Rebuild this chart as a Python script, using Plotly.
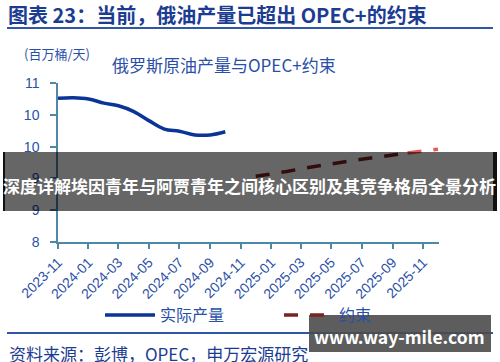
import plotly.graph_objects as go

# ---- data ----
actual_months = ["2023-11", "2023-12", "2024-01", "2024-02", "2024-03", "2024-04",
                 "2024-05", "2024-06", "2024-07", "2024-08", "2024-09", "2024-10"]
actual_values = [10.71, 10.72, 10.70, 10.62, 10.57, 10.46,
                 10.29, 10.13, 10.09, 10.02, 10.02, 10.08]

limit_months = ["2024-12", "2025-01", "2025-02", "2025-03", "2025-04", "2025-05", "2025-06",
                "2025-07", "2025-08", "2025-09", "2025-10", "2025-11", "2025-12"]
limit_values = [9.24, 9.28, 9.33, 9.38, 9.43, 9.48, 9.52,
                9.56, 9.60, 9.64, 9.68, 9.72, 9.75]

y_tickvals = [8, 8.6, 9.2, 9.8, 10.4, 11]
y_ticktext = ["8", "9", "9", "10", "10", "11"]

series_names = ["实际产量", "约束"]

W, H = 500, 362
L, R, T, B = 58, 61, 83, 120
PW, PH = W - L - R, H - T - B


def px(xp):
    return (xp - L) / PW


def py(yp):
    return (H - B - yp) / PH


FONT = "Noto Sans CJK SC, Noto Sans, sans-serif"
NUMFONT = "Liberation Sans, Arial, sans-serif"
BLUE_TXT = "#2a4fa8"
NAVY = "#1c3c92"
AXIS = "#4f88a6"

fig = go.Figure()

fig.add_trace(go.Scatter(
    x=[m + "-01" for m in actual_months], y=actual_values, mode="lines",
    name=series_names[0], line=dict(color="#0a3597", width=3.5, shape="spline"),
))

split = limit_months.index("2025-10")
fig.add_trace(go.Scatter(
    x=[m + "-01" for m in limit_months[:split + 1]], y=limit_values[:split + 1],
    mode="lines", name=series_names[1], legendgroup="lim",
    line=dict(color="#7a2422", width=3.5, dash="14px,12px"),
))
fig.add_trace(go.Scatter(
    x=[m + "-01" for m in limit_months[split:]], y=limit_values[split:],
    mode="lines", name=series_names[1], legendgroup="lim", showlegend=False,
    line=dict(color="#e65a5a", width=3.5, dash="14px,12px"),
))

fig.update_xaxes(
    range=["2023-11-01", "2025-12-03"], type="date",
    tick0="2023-11-01", dtick="M2", tickformat="%Y-%m", tickangle=-45,
    showline=True, linecolor=AXIS, linewidth=1.5, showgrid=False, zeroline=False,
    ticks="outside", ticklen=5, tickcolor=AXIS, tickwidth=1.5,
    tickfont=dict(family=NUMFONT, size=14, color=BLUE_TXT),
)
fig.update_yaxes(
    range=[8, 11], tickvals=y_tickvals, ticktext=y_ticktext,
    showline=True, linecolor=AXIS, linewidth=1.5, showgrid=False, zeroline=False,
    ticks="outside", ticklen=6, tickcolor=AXIS, tickwidth=1.5,
    ticklabelstandoff=8,
    tickfont=dict(family=NUMFONT, size=14, color=BLUE_TXT),
)

shapes = [
    dict(type="line", xref="paper", yref="paper", x0=px(7), x1=px(493), y0=py(28), y1=py(28),
         line=dict(color="#3056a8", width=2)),
    dict(type="line", xref="paper", yref="paper", x0=px(7), x1=px(493), y0=py(333), y1=py(333),
         line=dict(color="#3056a8", width=2)),
    dict(type="rect", xref="paper", yref="paper", x0=px(5), x1=px(493), y0=py(211), y1=py(152),
         fillcolor="rgba(0,0,0,0.6)", line=dict(width=0), layer="above"),
    dict(type="rect", xref="paper", yref="paper", x0=px(3), x1=px(5), y0=py(211), y1=py(152),
         fillcolor="#111111", line=dict(width=0), layer="above"),
    dict(type="rect", xref="paper", yref="paper", x0=px(493), x1=px(497), y0=py(211), y1=py(152),
         fillcolor="#111111", line=dict(width=0), layer="above"),
    dict(type="rect", xref="paper", yref="paper", x0=px(309), x1=px(491), y0=py(352), y1=py(315),
         fillcolor="rgba(75,75,75,0.9)", line=dict(width=0), layer="above"),
]

annotations = [
    dict(text="<b>图表 23：当前，俄油产量已超出 OPEC+的约束</b>", xref="paper", yref="paper",
         x=px(6), y=py(14), xanchor="left", yanchor="middle", showarrow=False,
         font=dict(family=FONT, size=20, color=NAVY)),
    dict(text="(百万桶/天)", xref="paper", yref="paper",
         x=px(22), y=py(53), xanchor="left", yanchor="middle", showarrow=False,
         font=dict(family=FONT, size=13, color=BLUE_TXT)),
    dict(text="俄罗斯原油产量与OPEC+约束", xref="paper", yref="paper",
         x=px(110), y=py(64), xanchor="left", yanchor="middle", showarrow=False,
         font=dict(family=FONT, size=17, color=BLUE_TXT)),
    dict(text="资料来源：彭博，OPEC，申万宏源研究", xref="paper", yref="paper",
         x=px(7), y=py(353), xanchor="left", yanchor="middle", showarrow=False,
         font=dict(family=FONT, size=17, color=NAVY)),
    dict(text="<b>深度详解埃因青年与阿贾青年之间核心区别及其竞争格局全景分析</b>", xref="paper", yref="paper",
         x=px(249), y=py(185), xanchor="center", yanchor="middle", showarrow=False,
         font=dict(family=FONT, size=17, color="white")),
    dict(text="<b>www.way-mile.com</b>", xref="paper", yref="paper",
         x=px(399), y=py(336), xanchor="center", yanchor="middle", showarrow=False,
         font=dict(family=FONT, size=17.5, color="white")),
]

fig.update_layout(
    width=W, height=H, margin=dict(l=L, r=R, t=T, b=B, autoexpand=False),
    paper_bgcolor="white", plot_bgcolor="white",
    shapes=shapes, annotations=annotations,
    showlegend=True,
    legend=dict(orientation="h", x=px(100), y=py(315), xanchor="left", yanchor="middle",
                entrywidth=114, itemwidth=50, bgcolor="rgba(0,0,0,0)",
                font=dict(family=FONT, size=16, color=BLUE_TXT)),
)

fig.write_html("out.html", config={"displayModeBar": False},
               post_script="document.body.style.margin='0';")
